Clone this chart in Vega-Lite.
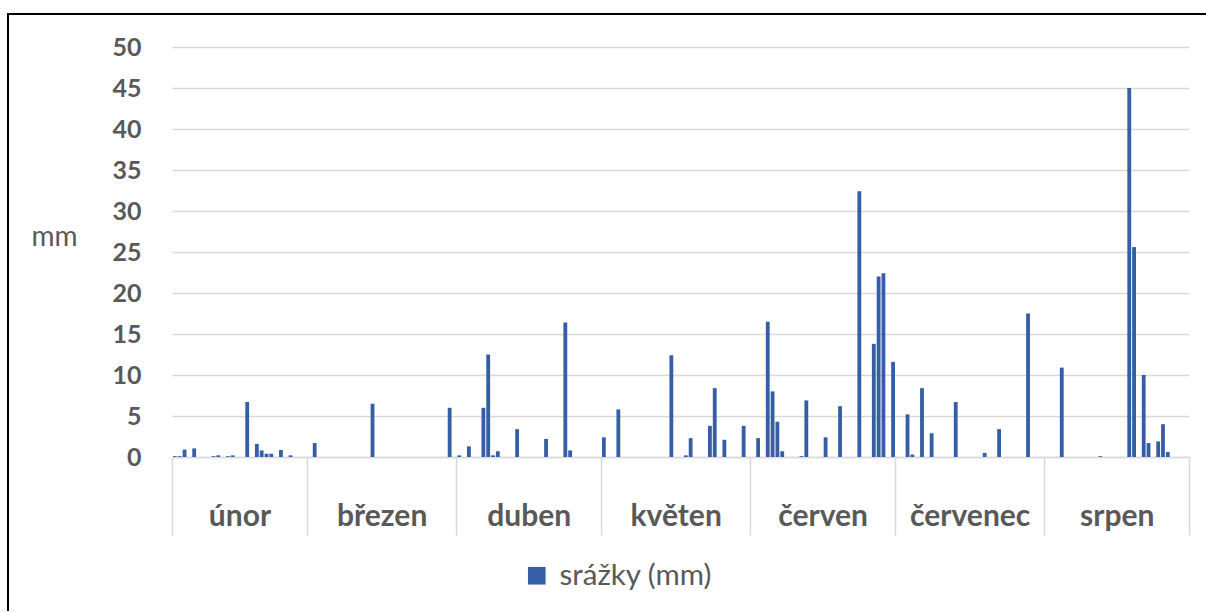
{
  "$schema": "https://vega.github.io/schema/vega-lite/v6.json",
  "width": 1198,
  "height": 598,
  "autosize": {"type": "none"},
  "padding": {"left": 8, "top": 14, "right": 0, "bottom": 0},
  "background": "white",
  "config": {"view": {"stroke": "#000000", "strokeWidth": 2, "strokeDash": [1199, 1796, 600]}, "font": "Lato"},
  "data": {"values": [
    {"date": "2023-02-01", "mm": 0.1},
    {"date": "2023-02-02", "mm": 0.1},
    {"date": "2023-02-03", "mm": 0.9},
    {"date": "2023-02-05", "mm": 1.05},
    {"date": "2023-02-09", "mm": 0.1},
    {"date": "2023-02-10", "mm": 0.2},
    {"date": "2023-02-12", "mm": 0.1},
    {"date": "2023-02-13", "mm": 0.2},
    {"date": "2023-02-16", "mm": 6.7},
    {"date": "2023-02-18", "mm": 1.6},
    {"date": "2023-02-19", "mm": 0.8},
    {"date": "2023-02-20", "mm": 0.4},
    {"date": "2023-02-21", "mm": 0.4},
    {"date": "2023-02-23", "mm": 0.85},
    {"date": "2023-02-25", "mm": 0.2},
    {"date": "2023-03-02", "mm": 1.7},
    {"date": "2023-03-14", "mm": 6.5},
    {"date": "2023-03-30", "mm": 6.0},
    {"date": "2023-04-01", "mm": 0.2},
    {"date": "2023-04-03", "mm": 1.3},
    {"date": "2023-04-06", "mm": 6.0},
    {"date": "2023-04-07", "mm": 12.5},
    {"date": "2023-04-08", "mm": 0.2},
    {"date": "2023-04-09", "mm": 0.7},
    {"date": "2023-04-13", "mm": 3.4},
    {"date": "2023-04-19", "mm": 2.2},
    {"date": "2023-04-23", "mm": 16.4},
    {"date": "2023-04-24", "mm": 0.8},
    {"date": "2023-05-01", "mm": 2.4},
    {"date": "2023-05-04", "mm": 5.8},
    {"date": "2023-05-15", "mm": 12.4},
    {"date": "2023-05-18", "mm": 0.2},
    {"date": "2023-05-19", "mm": 2.3},
    {"date": "2023-05-23", "mm": 3.8},
    {"date": "2023-05-24", "mm": 8.4},
    {"date": "2023-05-26", "mm": 2.1},
    {"date": "2023-05-30", "mm": 3.8},
    {"date": "2023-06-02", "mm": 2.3},
    {"date": "2023-06-04", "mm": 16.5},
    {"date": "2023-06-05", "mm": 8.0},
    {"date": "2023-06-06", "mm": 4.3},
    {"date": "2023-06-07", "mm": 0.7},
    {"date": "2023-06-11", "mm": 0.1},
    {"date": "2023-06-12", "mm": 6.9},
    {"date": "2023-06-16", "mm": 2.4},
    {"date": "2023-06-19", "mm": 6.2},
    {"date": "2023-06-23", "mm": 32.4},
    {"date": "2023-06-26", "mm": 13.8},
    {"date": "2023-06-27", "mm": 22.0},
    {"date": "2023-06-28", "mm": 22.4},
    {"date": "2023-06-30", "mm": 11.6},
    {"date": "2023-07-03", "mm": 5.2},
    {"date": "2023-07-04", "mm": 0.3},
    {"date": "2023-07-06", "mm": 8.4},
    {"date": "2023-07-08", "mm": 2.9},
    {"date": "2023-07-13", "mm": 6.7},
    {"date": "2023-07-19", "mm": 0.5},
    {"date": "2023-07-22", "mm": 3.4},
    {"date": "2023-07-28", "mm": 17.5},
    {"date": "2023-08-04", "mm": 10.9},
    {"date": "2023-08-12", "mm": 0.1},
    {"date": "2023-08-18", "mm": 45.0},
    {"date": "2023-08-19", "mm": 25.6},
    {"date": "2023-08-21", "mm": 10.0},
    {"date": "2023-08-22", "mm": 1.7},
    {"date": "2023-08-24", "mm": 1.9},
    {"date": "2023-08-25", "mm": 4.0},
    {"date": "2023-08-26", "mm": 0.6}
  ]},
  "layer": [
    {
      "mark": {"type": "bar", "timeUnitBandSize": 0.4, "clip": false},
      "encoding": {
        "x": {
          "field": "date", "timeUnit": "utcyearmonthdate", "type": "temporal",
          "scale": {"type": "utc", "range": [164, 1181], "domain": [
            {"year": 2023, "month": 2, "date": 1, "utc": true},
            {"year": 2023, "month": 8, "date": 31, "utc": true}
          ]},
          "axis": {
            "orient": "bottom", "offset": -155,
            "values": [
              {"year": 2023, "month": 2, "date": 1, "utc": true},
              {"year": 2023, "month": 3, "date": 1, "utc": true},
              {"year": 2023, "month": 4, "date": 1, "utc": true},
              {"year": 2023, "month": 5, "date": 1, "utc": true},
              {"year": 2023, "month": 6, "date": 1, "utc": true},
              {"year": 2023, "month": 7, "date": 1, "utc": true},
              {"year": 2023, "month": 8, "date": 1, "utc": true},
              {"year": 2023, "month": 8, "date": 31, "utc": true}
            ],
            "labels": false, "ticks": true, "tickSize": 78, "tickColor": "#D9D9D9", "tickWidth": 1.5,
            "domain": true, "domainColor": "#D9D9D9", "domainWidth": 1.5, "grid": false, "title": null
          }
        },
        "y": {
          "field": "mm", "type": "quantitative",
          "scale": {"domain": [0, 50], "nice": false, "range": [443, 33]},
          "axis": {
            "orient": "left", "offset": -164,
            "values": [0, 5, 10, 15, 20, 25, 30, 35, 40, 45, 50],
            "domain": false, "ticks": false, "grid": true, "gridColor": "#D9D9D9", "gridWidth": 1.5,
            "labelFont": "Lato", "labelFontWeight": "bold", "labelFontSize": 25, "labelColor": "#595959", "labelPadding": 31,
            "title": "mm", "titleAngle": 0, "titleFont": "Lato", "titleFontWeight": "normal", "titleFontSize": 28,
            "titleColor": "#595959", "titleX": -118, "titleY": 223, "titleAlign": "center", "titleBaseline": "middle"
          }
        },
        "color": {
          "datum": "srážky (mm)", "type": "nominal",
          "scale": {"range": ["#345FA6"]},
          "legend": {
            "orient": "none", "legendX": 514, "legendY": 547, "title": null, "padding": 0,
            "symbolType": "square", "symbolSize": 310, "symbolStrokeWidth": 0, "symbolOpacity": 1,
            "labelFont": "Lato", "labelFontSize": 29.5, "labelColor": "#595959", "labelOffset": 8
          }
        }
      }
    },
    {
      "mark": {"type": "point", "opacity": 0},
      "encoding": {
        "x": {
          "field": "date", "timeUnit": "utcyearmonthdate", "type": "temporal",
          "axis": {
            "orient": "bottom", "offset": -155,
            "values": [
              {"year": 2023, "month": 2, "date": 15, "utc": true},
              {"year": 2023, "month": 3, "date": 16, "hours": 12, "utc": true},
              {"year": 2023, "month": 4, "date": 16, "utc": true},
              {"year": 2023, "month": 5, "date": 16, "hours": 12, "utc": true},
              {"year": 2023, "month": 6, "date": 16, "utc": true},
              {"year": 2023, "month": 7, "date": 16, "hours": 12, "utc": true},
              {"year": 2023, "month": 8, "date": 16, "utc": true}
            ],
            "labelExpr": "['leden','únor','březen','duben','květen','červen','červenec','srpen','září','říjen','listopad','prosinec'][utcmonth(datum.value)]",
            "ticks": false, "domain": false, "grid": false, "title": null,
            "labelFont": "Lato", "labelFontWeight": "bold", "labelFontSize": 30, "labelColor": "#595959",
            "labelPadding": 59, "labelBaseline": "middle", "labelFlush": false, "labelOverlap": false
          }
        }
      }
    }
  ],
  "resolve": {"axis": {"x": "independent"}}
}
